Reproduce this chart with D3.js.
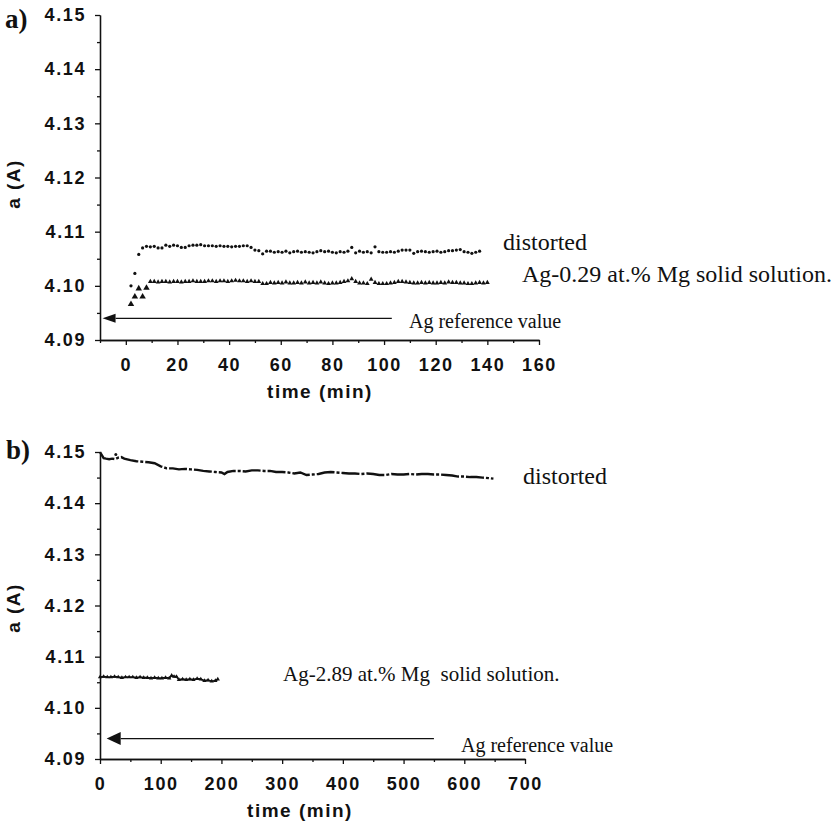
<!DOCTYPE html>
<html>
<head>
<meta charset="utf-8">
<script src="https://cdn.jsdelivr.net/npm/d3@7"></script>
<style>
  html, body { margin: 0; padding: 0; background: #fff; }
  svg { display: block; }
  .tick text { font-family: "Liberation Sans", Arial, sans-serif; font-weight: bold; font-size: 18px; letter-spacing: 1.6px; fill: #111; }
  .axis path, .axis line { stroke: #111; stroke-width: 1.3px; }
  .ann { font-family: "Liberation Serif", "Times New Roman", serif; fill: #111; }
  .title { font-family: "Liberation Sans", Arial, sans-serif; font-weight: bold; font-size: 19px; letter-spacing: 1.5px; fill: #111; }
  .plabel { font-family: "Liberation Serif", "Times New Roman", serif; font-weight: bold; font-size: 27px; fill: #111; }
</style>
</head>
<body>
<svg id="chart" width="839" height="827"></svg>
<script>
// ---------------- DATA ----------------
// Panel a (Ag-0.29 at.% Mg)
const timeA = [2, 3.5, 5, 6.5, 8, 9.5, 11, 12.5, 14, 15.5, 17, 18.5, 20, 21.5, 23, 24.5, 26, 27.5, 29, 30.5,
  32, 33.5, 35, 36.5, 38, 39.5, 41, 42.5, 44, 45.5, 47, 48.5, 50, 51.5, 53, 54.5, 56, 57.5, 59, 60.5,
  62, 63.5, 65, 66.5, 68, 69.5, 71, 72.5, 74, 75.5, 77, 78.5, 80, 81.5, 83, 84.5, 86, 87.5, 89, 90.5,
  92, 93.5, 95, 96.5, 98, 99.5, 101, 102.5, 104, 105.5, 107, 108.5, 110, 111.5, 113, 114.5, 116, 117.5, 119, 120.5,
  122, 123.5, 125, 126.5, 128, 129.5, 131, 132.5, 134, 135.5, 137, 138.5, 140];
const distortedA = [4.1000, 4.1023, 4.1058, 4.1070, 4.1073, 4.1072, 4.1073, 4.1070, 4.1070, 4.1075,
  4.1073, 4.1075, 4.1074, 4.1071, 4.1071, 4.1074, 4.1075, 4.1075, 4.1076, 4.1074,
  4.1074, 4.1074, 4.1073, 4.1074, 4.1073, 4.1073, 4.1072, 4.1073, 4.1073, 4.1074,
  4.1074, 4.1071, 4.1066, 4.1065, 4.1059, 4.1064, 4.1064, 4.1062, 4.1063, 4.1062,
  4.1064, 4.1061, 4.1063, 4.1064, 4.1062, 4.1063, 4.1062, 4.1061, 4.1063, 4.1065,
  4.1063, 4.1064, 4.1062, 4.1061, 4.1063, 4.1062, 4.1064, 4.1071, 4.1061, 4.1064,
  4.1062, 4.1063, 4.1061, 4.1072, 4.1063, 4.1062, 4.1062, 4.1063, 4.1062, 4.1064,
  4.1066, 4.1066, 4.1066, 4.1060, 4.1063, 4.1064, 4.1063, 4.1062, 4.1063, 4.1064,
  4.1062, 4.1063, 4.1065, 4.1065, 4.1066, 4.1067, 4.1063, 4.1062, 4.1060, 4.1062, 4.1064];
const solidA = [4.0966, 4.0980, 4.0995, 4.0980, 4.0996, 4.1008, 4.1008, 4.1007, 4.1008, 4.1008,
  4.1007, 4.1008, 4.1008, 4.1007, 4.1008, 4.1008, 4.1009, 4.1008, 4.1008, 4.1008,
  4.1009, 4.1009, 4.1008, 4.1009, 4.1009, 4.1008, 4.1009, 4.1010, 4.1009, 4.1009,
  4.1008, 4.1009, 4.1008, 4.1008, 4.1004, 4.1004, 4.1006, 4.1005, 4.1006, 4.1005,
  4.1007, 4.1005, 4.1005, 4.1006, 4.1005, 4.1007, 4.1005, 4.1006, 4.1005, 4.1007,
  4.1005, 4.1004, 4.1005, 4.1005, 4.1006, 4.1008, 4.1009, 4.1013, 4.1008, 4.1005,
  4.1005, 4.1004, 4.1012, 4.1006, 4.1004, 4.1004, 4.1004, 4.1005, 4.1006, 4.1008,
  4.1008, 4.1007, 4.1006, 4.1005, 4.1005, 4.1006, 4.1005, 4.1006, 4.1005, 4.1005,
  4.1006, 4.1005, 4.1007, 4.1006, 4.1006, 4.1005, 4.1005, 4.1004, 4.1004, 4.1005,
  4.1006, 4.1005, 4.1006];

// Panel b (Ag-2.89 at.% Mg)
const timeB1 = [0, 3, 6, 10, 15, 20, 25, 30, 35, 40, 50, 60, 70, 80, 90, 100, 110, 120, 130, 140,
  150, 160, 170, 180, 190, 200, 205, 210, 220, 230, 240, 250, 260, 270, 280, 290, 300, 310, 320, 330,
  340, 350, 360, 370, 380, 390, 400, 410, 420, 430, 440, 450, 460, 470, 480, 490, 500, 510, 520, 530,
  540, 550, 560, 570, 580, 590, 600, 610, 620, 630, 640, 648];
const distortedB = [4.1500, 4.1494, 4.1488, 4.1487, 4.1486, 4.1487, 4.1486, 4.1489, 4.1490, 4.1487,
  4.1484, 4.1482, 4.1481, 4.1480, 4.1478, 4.1472, 4.1468, 4.1468, 4.1466, 4.1467,
  4.1466, 4.1465, 4.1463, 4.1462, 4.1461, 4.1460, 4.1457, 4.1461, 4.1463, 4.1463,
  4.1462, 4.1464, 4.1464, 4.1463, 4.1463, 4.1461, 4.1461, 4.1460, 4.1458, 4.1460,
  4.1455, 4.1456, 4.1457, 4.1460, 4.1461, 4.1460, 4.1459, 4.1458, 4.1458, 4.1457,
  4.1458, 4.1457, 4.1455, 4.1455, 4.1457, 4.1456, 4.1456, 4.1457, 4.1456, 4.1457,
  4.1457, 4.1456, 4.1456, 4.1455, 4.1454, 4.1452, 4.1452, 4.1451, 4.1451, 4.1450,
  4.1449, 4.1448];
const timeB2 = [0, 6, 12, 18, 24, 30, 36, 42, 48, 54, 60, 66, 72, 78, 84, 90, 96, 102, 108, 114,
  118, 122, 126, 130, 136, 142, 148, 154, 160, 166, 172, 178, 184, 190, 194];
const solidB = [4.1060, 4.1061, 4.1060, 4.1060, 4.1061, 4.1060, 4.1059, 4.1060, 4.1060, 4.1060,
  4.1059, 4.1060, 4.1059, 4.1059, 4.1058, 4.1059, 4.1058, 4.1058, 4.1059, 4.1058,
  4.1063, 4.1061, 4.1061, 4.1055, 4.1056, 4.1055, 4.1056, 4.1055, 4.1057, 4.1056,
  4.1053, 4.1054, 4.1052, 4.1053, 4.1056];

const yTicks = [4.09, 4.10, 4.11, 4.12, 4.13, 4.14, 4.15];
const yMinor = [4.095, 4.105, 4.115, 4.125, 4.135, 4.145];
const xTicksA = [0, 20, 40, 60, 80, 100, 120, 140, 160];
const xMinorA = [-10, 10, 30, 50, 70, 90, 110, 130, 150];
const xTicksB = [0, 100, 200, 300, 400, 500, 600, 700];
const xMinorB = [50, 150, 250, 350, 450, 550, 650];

const refValue = 4.094;
const arrowA = [-9, 103];     // time span of arrow in panel a
const arrowB = [11, 550];     // time span of arrow in panel b

// ---------------- DRAW ----------------
const svg = d3.select("#chart");
svg.append("rect").attr("width", 839).attr("height", 827).attr("fill", "#fff");

function panel(cfg) {
  const g = svg.append("g");
  const x = d3.scaleLinear().domain(cfg.xDomain).range(cfg.xRange);
  const y = d3.scaleLinear().domain([4.09, 4.15]).range(cfg.yRange);

  g.append("g").attr("class", "axis").attr("transform", `translate(${cfg.xRange[0]},0)`)
    .call(d3.axisLeft(y).tickValues(yTicks).tickFormat(d3.format(".2f")).tickSize(5).tickSizeOuter(0).tickPadding(9));
  g.append("g").attr("class", "axis").attr("transform", `translate(${cfg.xRange[0]},0)`)
    .call(d3.axisLeft(y).tickValues(yMinor).tickFormat("").tickSize(3).tickSizeOuter(0));
  g.append("g").attr("class", "axis").attr("transform", `translate(0,${cfg.yRange[0]})`)
    .call(d3.axisBottom(x).tickValues(cfg.xTicks).tickFormat(d3.format("d")).tickSize(5).tickSizeOuter(0).tickPadding(13));
  g.append("g").attr("class", "axis").attr("transform", `translate(0,${cfg.yRange[0]})`)
    .call(d3.axisBottom(x).tickValues(cfg.xMinor).tickFormat("").tickSize(3).tickSizeOuter(0));

  const ay = y(refValue);
  const tip = x(cfg.arrow[0]);
  g.append("line").attr("x1", tip + cfg.head[0]).attr("x2", x(cfg.arrow[1]))
    .attr("y1", ay).attr("y2", ay).attr("stroke", "#111").attr("stroke-width", 1.3);
  g.append("path")
    .attr("d", `M${tip},${ay}L${tip + cfg.head[0]},${ay - cfg.head[1]}L${tip + cfg.head[0]},${ay + cfg.head[1]}Z`)
    .attr("fill", "#111");

  g.append("text").attr("class", "title").attr("text-anchor", "middle")
    .attr("x", cfg.xTitle[0]).attr("y", cfg.xTitle[1]).text("time (min)");
  g.append("text").attr("class", "title").attr("text-anchor", "middle")
    .attr("transform", `translate(${cfg.yTitle[0]},${cfg.yTitle[1]}) rotate(-90)`).text("a (A)");
  g.append("text").attr("class", "plabel").attr("x", cfg.plabel[0]).attr("y", cfg.plabel[1]).text(cfg.plabel[2]);

  return { g, x, y };
}

// Panel a
const pa = panel({
  xDomain: [-10, 160], xRange: [100, 539], yRange: [340, 15],
  xTicks: xTicksA, xMinor: xMinorA, arrow: arrowA, head: [13, 4.5],
  xTitle: [320, 398], yTitle: [20, 184], plabel: [5, 28, "a)"]
});
pa.g.append("g").selectAll("circle").data(distortedA).join("circle")
  .attr("cx", (d, i) => pa.x(timeA[i])).attr("cy", d => pa.y(d)).attr("r", 1.6).attr("fill", "#111");
const tri = d3.symbol().type(d3.symbolTriangle);
pa.g.append("g").selectAll("path").data(solidA).join("path")
  .attr("transform", (d, i) => `translate(${pa.x(timeA[i])},${pa.y(d)})`)
  .attr("d", (d, i) => tri.size(i < 5 ? 18 : 10)()).attr("fill", "#111");

pa.g.append("text").attr("class", "ann").attr("font-size", 24).attr("x", 503).attr("y", 250).text("distorted");
pa.g.append("text").attr("class", "ann").attr("font-size", 24).attr("x", 522).attr("y", 282).text("Ag-0.29 at.% Mg solid solution.");
pa.g.append("text").attr("class", "ann").attr("font-size", 20).attr("x", 409).attr("y", 328).text("Ag reference value");

// Panel b
const pb = panel({
  xDomain: [0, 700], xRange: [100, 525], yRange: [759, 452],
  xTicks: xTicksB, xMinor: xMinorB, arrow: arrowB, head: [14, 6.5],
  xTitle: [300, 817], yTitle: [20, 608], plabel: [6, 459, "b)"]
});
pb.g.append("path").datum(distortedB)
  .attr("d", d3.line().x((d, i) => pb.x(timeB1[i])).y(d => pb.y(d)))
  .attr("fill", "none").attr("stroke", "#111").attr("stroke-width", 2.4)
  .attr("stroke-dasharray", "18,2,3,2");
pb.g.append("circle").attr("cx", pb.x(26)).attr("cy", pb.y(4.1495)).attr("r", 1.5).attr("fill", "#111");
pb.g.append("path").datum(solidB)
  .attr("d", d3.line().x((d, i) => pb.x(timeB2[i])).y(d => pb.y(d)))
  .attr("fill", "none").attr("stroke", "#111").attr("stroke-width", 1.7);
pb.g.append("g").selectAll("path").data(solidB).join("path")
  .attr("transform", (d, i) => `translate(${pb.x(timeB2[i])},${pb.y(d)})`)
  .attr("d", tri.size(8)()).attr("fill", "#111");

pb.g.append("text").attr("class", "ann").attr("font-size", 24).attr("x", 523).attr("y", 484).text("distorted");
pb.g.append("text").attr("class", "ann").attr("font-size", 21).attr("x", 283).attr("y", 681)
  .attr("xml:space", "preserve").style("white-space", "pre").text("Ag-2.89 at.% Mg  solid solution.");
pb.g.append("text").attr("class", "ann").attr("font-size", 20).attr("x", 461).attr("y", 752).text("Ag reference value");
</script>
</body>
</html>
